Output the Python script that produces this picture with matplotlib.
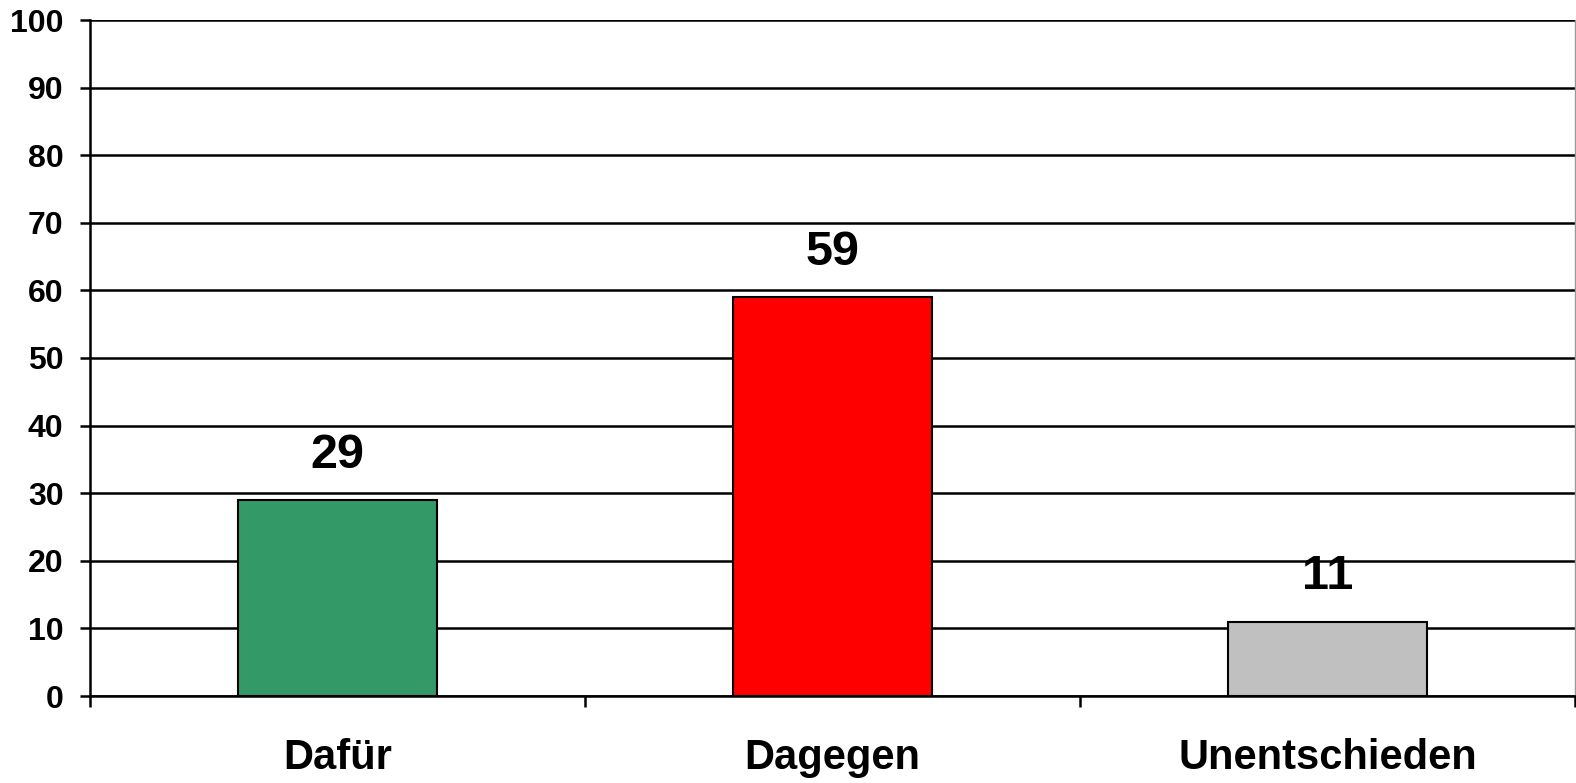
import matplotlib
matplotlib.use("Agg")
import matplotlib.pyplot as plt
import matplotlib.ticker as mticker

plt.rcParams["font.family"] = ["Liberation Sans", "DejaVu Sans"]
plt.rcParams["font.weight"] = "bold"

# Data
categories = ["Dafür", "Dagegen", "Unentschieden"]
values = [29, 59, 11]
bar_colors = ["#339966", "#FF0000", "#C0C0C0"]
y_ticks = list(range(0, 101, 10))

fig = plt.figure(figsize=(15.76, 7.83), dpi=100)
ax = fig.add_axes([90 / 1576, 1 - 696 / 783, (1575 - 90) / 1576, (696 - 20) / 783])

x = list(range(len(categories)))
bars = ax.bar(x, values, width=0.404, color=bar_colors, edgecolor="black",
              linewidth=1.5, zorder=3)

for xi, v in zip(x, values):
    ax.annotate(f"{v}", (xi, v), xytext=(0, 16), textcoords="offset points",
                ha="center", va="bottom", fontsize=35, fontweight="bold")

ax.set_xlim(-0.5, len(categories) - 0.5)
ax.set_ylim(0, 100)
ax.set_yticks(y_ticks)
ax.yaxis.grid(True, color="black", linewidth=1.8, zorder=0)
ax.set_axisbelow(True)

# category labels centred, tick marks on category boundaries
ax.xaxis.set_major_locator(mticker.FixedLocator([-0.5, 0.5, 1.5, 2.5]))
ax.xaxis.set_major_formatter(mticker.NullFormatter())
ax.xaxis.set_minor_locator(mticker.FixedLocator(x))
ax.xaxis.set_minor_formatter(mticker.FixedFormatter(categories))
ax.tick_params(axis="x", which="minor", length=0, pad=30, labelsize=30)
ax.tick_params(axis="x", which="major", length=8, width=1.8, direction="out")
ax.tick_params(axis="y", length=7, width=1.8, direction="out", pad=12, labelsize=23)
for lbl in ax.get_xticklabels(minor=True) + ax.get_yticklabels():
    lbl.set_fontweight("bold")

ax.spines["top"].set_visible(False)
ax.spines["right"].set_color("#999999")
ax.spines["right"].set_linewidth(1)
ax.spines["left"].set_linewidth(1.8)
ax.spines["bottom"].set_linewidth(1.8)

fig.savefig("out.png", dpi=100)
